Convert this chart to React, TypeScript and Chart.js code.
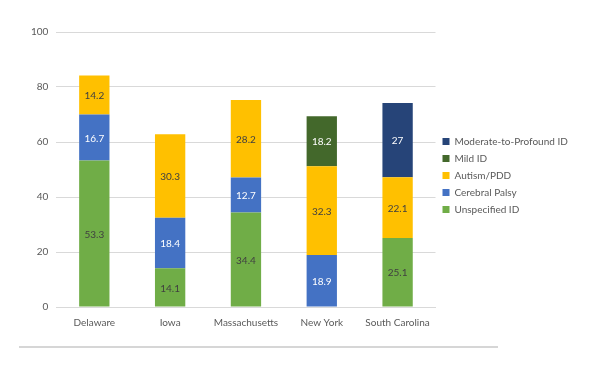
import React, { useEffect, useRef } from "react";
import { Chart, registerables } from "chart.js";

Chart.register(...registerables);

const categories = ["Delaware", "Iowa", "Massachusetts", "New York", "South Carolina"];
const unspecifiedID = [53.3, 14.1, 34.4, null, 25.1];
const cerebralPalsy = [16.7, 18.4, 12.7, 18.9, null];
const autismPDD = [14.2, 30.3, 28.2, 32.3, 22.1];
const mildID = [null, null, null, 18.2, null];
const moderateProfoundID = [null, null, null, null, 27];
const yTicks = [0, 20, 40, 60, 80, 100];

const FONT = "Lato, 'Liberation Sans', sans-serif";

const labelPlugin = {
  id: "segLabels",
  afterDatasetsDraw(chart: any) {
    const ctx = chart.ctx;
    ctx.save();
    ctx.font = `10px ${FONT}`;
    ctx.textAlign = "center";
    ctx.textBaseline = "middle";
    chart.data.datasets.forEach((ds: any, i: number) => {
      const meta = chart.getDatasetMeta(i);
      meta.data.forEach((bar: any, j: number) => {
        const v = ds.data[j];
        if (v === null || v === undefined) return;
        const y = (bar.y + bar.base) / 2;
        ctx.fillStyle = ds.labelColor;
        ctx.fillText(String(v), bar.x, y + 1);
      });
    });
    ctx.restore();
  },
};

const linePlugin = {
  id: "sepLine",
  afterDraw(chart: any) {
    const ctx = chart.ctx;
    ctx.save();
    ctx.strokeStyle = "#c8c8c8";
    ctx.lineWidth = 1.5;
    ctx.beginPath();
    ctx.moveTo(19, 347);
    ctx.lineTo(498, 347);
    ctx.stroke();
    ctx.restore();
  },
};

export default function App() {
  const ref = useRef<HTMLCanvasElement>(null);
  useEffect(() => {
    if (!ref.current) return;
    const mk = (label: string, data: any[], color: string, labelColor: string) => ({
      label,
      data,
      backgroundColor: color,
      labelColor,
      barPercentage: 0.4,
      categoryPercentage: 1,
    });
    const chart = new Chart(ref.current, {
      type: "bar",
      data: {
        labels: categories,
        datasets: [
          mk("Unspecified ID", unspecifiedID, "#70AD47", "#404040"),
          mk("Cerebral Palsy", cerebralPalsy, "#4472C4", "#ffffff"),
          mk("Autism/PDD", autismPDD, "#FFC000", "#404040"),
          mk("Mild ID", mildID, "#43682B", "#ffffff"),
          mk("Moderate-to-Profound ID", moderateProfoundID, "#264478", "#ffffff"),
        ] as any,
      },
      options: {
        responsive: false,
        animation: false,
        layout: { padding: { top: 32, bottom: 36, left: 23, right: 27 } },
        plugins: {
          tooltip: { enabled: false },
          legend: {
            position: "right",
            fullSize: false,
            reverse: true,
            title: { display: true, text: " ", padding: 0, font: { family: FONT, size: 10 } },
            labels: {
              boxWidth: 7,
              boxHeight: 7,
              padding: 7,
              color: "#595959",
              font: { family: FONT, size: 10 },
            },
          },
        },
        scales: {
          x: {
            stacked: true,
            grid: { display: false },
            border: { color: "#d9d9d9" },
            ticks: { color: "#595959", font: { family: FONT, size: 10 }, padding: 2, maxRotation: 0 },
          },
          y: {
            stacked: true,
            min: 0,
            max: 100,
            afterBuildTicks: (axis: any) => {
              axis.ticks = yTicks.map((v) => ({ value: v }));
            },
            grid: { color: "#d9d9d9", drawTicks: false },
            border: { display: false },
            ticks: { color: "#595959", font: { family: FONT, size: 10 }, padding: 8 },
          },
        },
      },
      plugins: [labelPlugin, linePlugin],
    });
    return () => chart.destroy();
  }, []);
  return (
    <div style={{ position: "absolute", left: 0, top: 0, width: 600, height: 367, background: "#fff" }}>
      <canvas ref={ref} width={600} height={367} />
    </div>
  );
}
